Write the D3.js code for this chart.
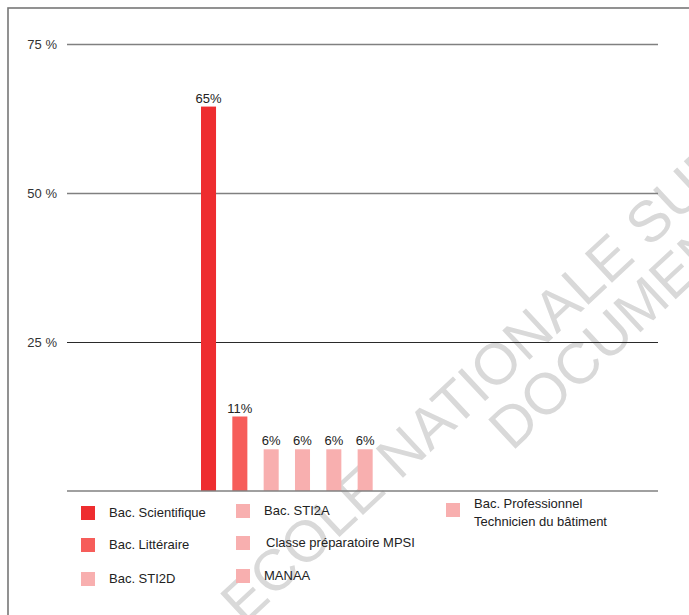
<!DOCTYPE html>
<html>
<head>
<meta charset="utf-8">
<script src="https://cdn.jsdelivr.net/npm/d3@7"></script>
<style>
  body { margin: 0; background: #fff; }
  text { font-family: "Liberation Sans", Arial, sans-serif; }
</style>
</head>
<body>
<div id="chart"></div>
<script>
// Data
var categories = ["Bac. Scientifique", "Bac. Littéraire", "Bac. STI2D", "Bac. STI2A",
  "Classe préparatoire MPSI", "MANAA", "Bac. Professionnel Technicien du bâtiment"];
var values = [64.5, 12.5, 7, 7, 7, 7, 0];
var valueLabels = ["65%", "11%", "6%", "6%", "6%", "6%", ""];
var yTicks = [25, 50, 75];
var colors = ["#ee2d2f", "#f65d5a", "#f8afaf", "#f8afaf", "#f8afaf", "#f8afaf", "#f8afaf"];
var watermark = ["ECOLE NATIONALE SUPERIEURE", "DOCUMENT SOUMIS AU DROIT D'AUTEUR"];

var svgWidth = 689;
var svgHeight = 615;

var svg = d3.select("#chart")
  .append("svg")
  .attr("width", svgWidth)
  .attr("height", svgHeight);

// frame
svg.append("rect")
  .attr("x", 8)
  .attr("y", 8)
  .attr("width", 720)
  .attr("height", 700)
  .attr("fill", "none")
  .attr("stroke", "#777")
  .attr("stroke-width", 1.6);

// watermark, behind the chart
var wm = svg.append("g")
  .attr("fill", "#d9d9d9")
  .style("font-size", "58px");
wm.append("text")
  .attr("transform", "translate(244,626) rotate(-43)")
  .text(watermark[0]);
wm.append("text")
  .attr("transform", "translate(512,452) rotate(-43)")
  .text(watermark[1]);

// scales
var x = d3.scaleBand()
  .domain(categories)
  .range([201, 404])
  .paddingInner(0.52)
  .paddingOuter(0);

var y = d3.scaleLinear()
  .domain([0, 75])
  .range([491, 44]);

var left = 67, right = 658;

// gridlines + tick labels
var yAxis = d3.axisLeft(y)
  .tickValues(yTicks)
  .tickSize(-(right - left))
  .tickPadding(10)
  .tickFormat(d => `${d} %`);

var axisG = svg.append("g")
  .attr("transform", `translate(${left},0)`)
  .call(yAxis);
axisG.select(".domain").remove();
axisG.selectAll(".tick line")
  .attr("stroke", d => d === 25 ? "#2a2a2a" : "#808080")
  .attr("stroke-width", d => d === 25 ? 1 : 1.6);
axisG.selectAll(".tick text")
  .attr("fill", "#333")
  .style("font-size", "13px")
  .style("font-family", "'Liberation Sans', Arial, sans-serif");

// bars
var bars = categories.map((c, i) => ({ cat: c, value: values[i], label: valueLabels[i], color: colors[i] }))
  .filter(d => d.value > 0);

svg.selectAll(".bar")
  .data(bars)
  .enter()
  .append("rect")
  .attr("class", "bar")
  .attr("x", d => x(d.cat))
  .attr("y", d => y(d.value))
  .attr("width", x.bandwidth())
  .attr("height", d => y(0) - y(d.value))
  .attr("fill", d => d.color);

svg.selectAll(".barLabel")
  .data(bars)
  .enter()
  .append("text")
  .attr("class", "barLabel")
  .attr("x", d => x(d.cat) + x.bandwidth() / 2)
  .attr("y", d => y(d.value) - 4)
  .attr("text-anchor", "middle")
  .attr("fill", "#222")
  .style("font-size", "13px")
  .text(d => d.label);

// baseline
svg.append("line")
  .attr("x1", left)
  .attr("x2", right)
  .attr("y1", y(0))
  .attr("y2", y(0))
  .attr("stroke", "#808080")
  .attr("stroke-width", 1.6);

// legend
var legendPos = [
  [81, 506], [81, 538], [81, 572],
  [236, 504], [236, 536], [236, 569],
  [446, 503]
];

var legend = svg.selectAll(".legend")
  .data(categories)
  .enter()
  .append("g")
  .attr("class", "legend")
  .attr("transform", (d, i) => `translate(${legendPos[i][0]},${legendPos[i][1]})`);

legend.append("rect")
  .attr("width", 14)
  .attr("height", 14)
  .attr("fill", (d, i) => colors[i]);

legend.append("text")
  .attr("x", (d, i) => i === 4 ? 30 : 28)
  .attr("y", (d, i) => i === 6 ? 5 : 11)
  .attr("fill", "#222")
  .style("font-size", "13px")
  .each(function(d, i) {
    var t = d3.select(this);
    if (i === 6) {
      t.append("tspan").attr("x", 28).text("Bac. Professionnel");
      t.append("tspan").attr("x", 28).attr("dy", 18).text("Technicien du bâtiment");
    } else {
      t.text(d);
    }
  });
</script>
</body>
</html>
